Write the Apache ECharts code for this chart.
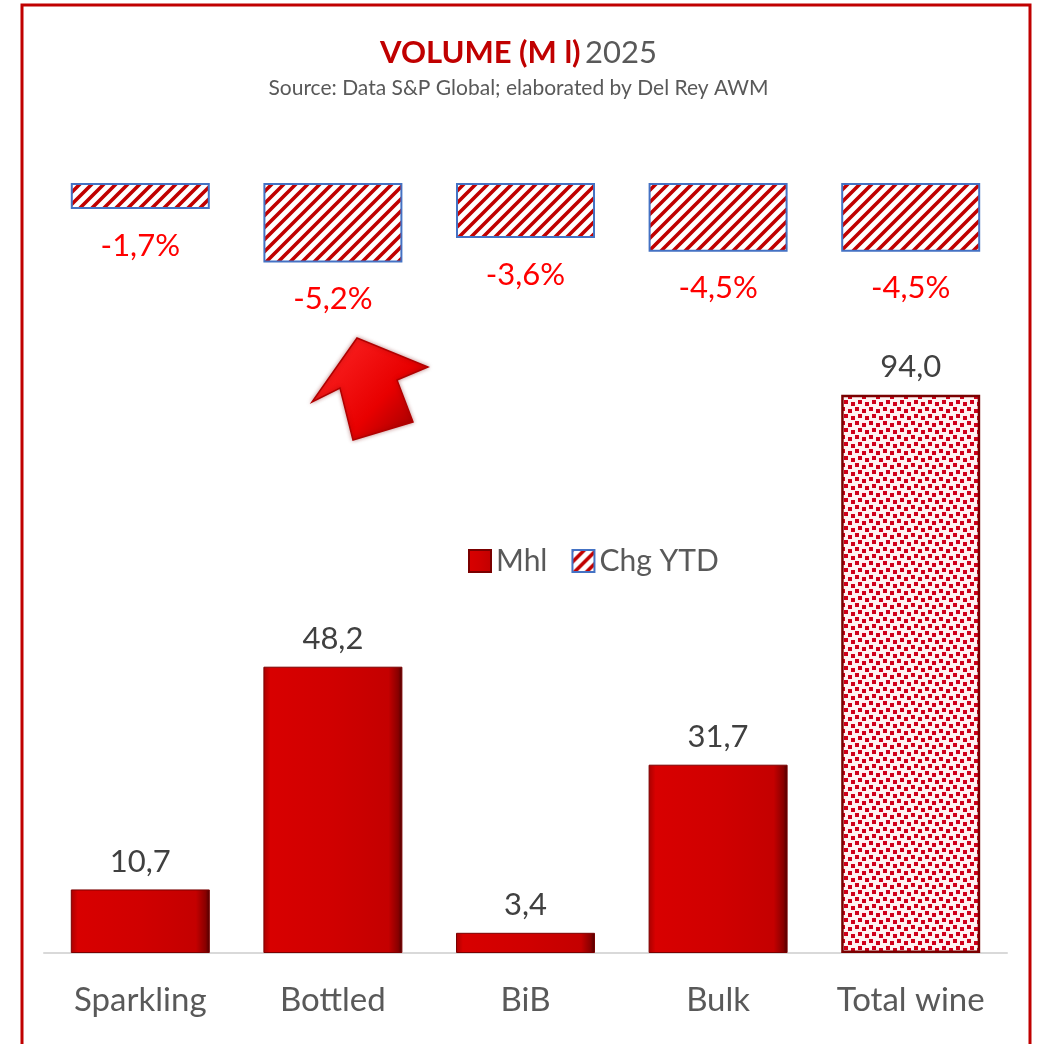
<!DOCTYPE html>
<html>
<head>
<meta charset="utf-8">
<title>VOLUME (M l) 2025</title>
<script src="https://cdn.jsdelivr.net/npm/echarts@6/dist/echarts.min.js"></script>
<style>
	html,body{margin:0;padding:0;background:#fff;}
	#chart{width:1037px;height:1044px;}
</style>
</head>
<body>
<div id="chart"></div>
<script>
// data
var categories = ['Sparkling', 'Bottled', 'BiB', 'Bulk', 'Total wine'];
var mhlValues = [10.7, 48.2, 3.4, 31.7, 94.0];
var chgValues = [-1.7, -5.2, -3.6, -4.5, -4.5];
var seriesNames = ['Mhl', 'Chg YTD'];

this.vol = this.vol||{};
(function(){
	var VolumeChart = function(dom){
		this.dom = dom;
		this.init();
	};
	var p = VolumeChart.prototype;

	p.init = function(){
		this.font = 'Lato, "Open Sans", sans-serif';
		this.initPatterns();
		this.chart = echarts.init(this.dom, null, {renderer: 'canvas'});
		this.chart.setOption(this.buildOption());
	};

	// comma as decimal mark
	p.fmt = function(v){
		return v.toFixed(1).replace('.', ',');
	};

	p.initPatterns = function(){
		// diagonal red stripes
		var s = 12;
		var c = document.createElement('canvas');
		c.width = s; c.height = s;
		var ctx = c.getContext('2d');
		ctx.fillStyle = '#ffffff';
		ctx.fillRect(0, 0, s, s);
		ctx.strokeStyle = '#c00000';
		ctx.lineWidth = 3.6;
		ctx.beginPath();
		ctx.moveTo(-1, s + 1); ctx.lineTo(s + 1, -1);
		ctx.moveTo(-2, 2); ctx.lineTo(2, -2);
		ctx.moveTo(s - 2, s + 2); ctx.lineTo(s + 2, s - 2);
		ctx.stroke();
		this.stripe = c;

		// dotted fill of the total bar
		var d = document.createElement('canvas');
		d.width = 14; d.height = 14;
		var dc = d.getContext('2d');
		dc.fillStyle = '#fff2f2';
		dc.fillRect(0, 0, 14, 14);
		dc.fillStyle = '#d0001a';
		dc.fillRect(1, 1, 4, 4);
		dc.fillRect(8, 3, 4, 4);
		dc.fillRect(4, 8, 4, 4);
		dc.fillRect(11, 10, 3, 4);
		dc.fillRect(0, 10, 1, 4);
		this.dots = d;
	};

	p.buildOption = function(){
		var cur = this;
		var barGrad = new echarts.graphic.LinearGradient(0, 0, 1, 0, [
			{offset: 0, color: '#a80000'},
			{offset: 0.05, color: '#d80000'},
			{offset: 0.5, color: '#d00000'},
			{offset: 0.9, color: '#c40000'},
			{offset: 0.97, color: '#880000'},
			{offset: 1, color: '#4a0000'}
		]);

		var mhlData = [];
		$each(mhlValues, function(i, v){
			if(i === mhlValues.length - 1){
				mhlData.push({
					value: v,
					itemStyle: {
						color: {image: cur.dots, repeat: 'repeat'},
						borderColor: '#7a0000',
						borderWidth: 2.5
					}
				});
			}else{
				mhlData.push(v);
			}
		});

		return {
			backgroundColor: '#ffffff',
			animation: false,
			textStyle: {fontFamily: cur.font},
			title: {
				left: 'center',
				top: 32,
				itemGap: 10,
				text: '{a|VOLUME (M l)} {b|2025}',
				textStyle: {
					rich: {
						a: {fontFamily: cur.font, fontSize: 31, fontWeight: 'bold', color: '#c00000'},
						b: {fontFamily: cur.font, fontSize: 31, fontWeight: 'normal', color: '#595959'}
					}
				},
				subtext: 'Source: Data S&P Global; elaborated by Del Rey AWM',
				subtextStyle: {fontFamily: cur.font, fontSize: 21, color: '#595959'}
			},
			legend: {
				left: 463,
				top: 541,
				icon: 'rect',
				itemWidth: 22,
				itemHeight: 22,
				itemGap: 24,
				data: seriesNames,
				textStyle: {fontFamily: cur.font, fontSize: 30, color: '#595959'}
			},
			grid: [
				{left: 44, right: 30, top: 183, height: 153},
				{left: 44, right: 30, top: 359, bottom: 91}
			],
			xAxis: [
				{gridIndex: 0, type: 'category', data: categories, show: false},
				{
					gridIndex: 1, type: 'category', data: categories,
					axisLine: {lineStyle: {color: '#d9d9d9', width: 2}},
					axisTick: {show: false},
					axisLabel: {margin: 31, fontSize: 33, color: '#595959', fontFamily: cur.font}
				}
			],
			yAxis: [
				{gridIndex: 0, type: 'value', min: -10, max: 0, show: false, splitLine: {show: false}},
				{gridIndex: 1, type: 'value', min: 0, max: 100, show: false, splitLine: {show: false}}
			],
			series: [
				{
					name: 'Mhl',
					type: 'bar',
					xAxisIndex: 1,
					yAxisIndex: 1,
					barWidth: 139,
					data: mhlData,
					itemStyle: {color: barGrad, borderColor: '#7a0000', borderWidth: 1},
					label: {
						show: true,
						position: 'top',
						distance: 12,
						fontSize: 31,
						color: '#404040',
						fontFamily: cur.font,
						formatter: function(pr){ return cur.fmt(pr.value); }
					}
				},
				{
					name: 'Chg YTD',
					type: 'bar',
					xAxisIndex: 0,
					yAxisIndex: 0,
					barWidth: 139,
					data: chgValues,
					itemStyle: {
						color: {image: cur.stripe, repeat: 'repeat'},
						borderColor: '#4472c4',
						borderWidth: 2
					},
					label: {
						show: true,
						position: 'bottom',
						distance: 21,
						fontSize: 31,
						color: '#ff0000',
						fontFamily: cur.font,
						formatter: function(pr){ return cur.fmt(pr.value) + '%'; }
					}
				}
			],
			graphic: [
				{
					// outer frame
					type: 'rect',
					silent: true,
					shape: {x: 22, y: 5, width: 1008, height: 1060},
					style: {fill: 'none', stroke: '#c00000', lineWidth: 3}
				},
				{
					// decorative 3D arrow
					type: 'polygon',
					silent: true,
					shape: {points: [[357, 338], [428, 367], [397, 380], [413, 422], [353, 440], [340, 388], [312, 402]]},
					style: {
						fill: new echarts.graphic.LinearGradient(0, 0, 1, 1, [
							{offset: 0, color: '#ff2a2a'},
							{offset: 0.6, color: '#e80000'},
							{offset: 1, color: '#8a0000'}
						]),
						stroke: '#b00000',
						lineWidth: 1.5,
						shadowBlur: 4,
						shadowColor: 'rgba(120,0,0,0.4)'
					}
				}
			]
		};
	};

	function $each(arr, fn){
		for(var i = 0; i < arr.length; i++){
			fn(i, arr[i]);
		}
	}

	vol.VolumeChart = VolumeChart;
})();

new vol.VolumeChart(document.getElementById('chart'));
</script>
</body>
</html>
